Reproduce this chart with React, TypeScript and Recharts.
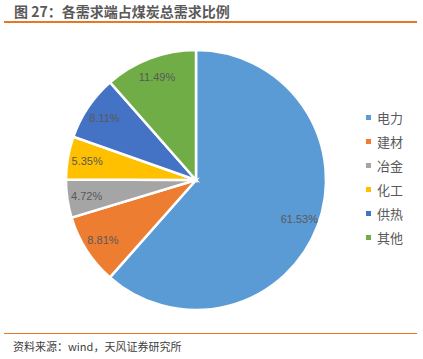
import React from "react";
import { PieChart, Pie, Cell, Legend } from "recharts";

const categories = ["电力", "建材", "冶金", "化工", "供热", "其他"];
const shares = [61.53, 8.81, 4.72, 5.35, 8.11, 11.49];
const colors = ["#5B9BD5", "#ED7D31", "#A5A5A5", "#FFC000", "#4472C4", "#70AD47"];

const data = categories.map((name, i) => ({ name, value: shares[i] }));

const RAD = Math.PI / 180;

const renderLabel = (props: any) => {
  const { cx, cy, midAngle, outerRadius, value } = props;
  const r = outerRadius * 0.85;
  const x = cx + r * Math.cos(-midAngle * RAD);
  const y = cy + r * Math.sin(-midAngle * RAD);
  return (
    <text
      x={x}
      y={y}
      fill="#595959"
      fontSize={11}
      fontFamily="Liberation Sans, Arial, sans-serif"
      textAnchor="middle"
      dominantBaseline="central"
    >
      {value.toFixed(2) + "%"}
    </text>
  );
};

const renderLegend = () => (
  <div style={{ fontFamily: "'Noto Sans CJK SC', sans-serif", fontSize: 13, color: "#595959" }}>
    {data.map((d, i) => (
      <div key={d.name} style={{ display: "flex", alignItems: "center", height: 24 }}>
        <span
          style={{ display: "inline-block", width: 5, height: 5, background: colors[i], marginRight: 6 }}
        />
        <span>{d.name}</span>
      </div>
    ))}
  </div>
);

export default function App() {
  return (
    <div
      style={{
        position: "absolute",
        left: 0,
        top: 0,
        width: 423,
        height: 359,
        background: "#fff",
        overflow: "hidden",
      }}
    >
      <div
        style={{
          position: "absolute",
          left: 14,
          top: 2,
          fontFamily: "'Noto Sans CJK SC', sans-serif",
          fontWeight: "bold",
          fontSize: 14,
          color: "#595959",
          lineHeight: "18px",
        }}
      >
        图 27：各需求端占煤炭总需求比例
      </div>
      <div style={{ position: "absolute", left: 4, top: 21, width: 413, height: 2, background: "#E87722" }} />
      <PieChart width={423} height={359} margin={{ top: 0, right: 0, bottom: 0, left: 0 }}>
        <Pie
          data={data}
          dataKey="value"
          nameKey="name"
          cx={196}
          cy={180}
          outerRadius={130}
          startAngle={90}
          endAngle={-270}
          stroke="#fff"
          strokeWidth={2.5}
          label={renderLabel}
          labelLine={false}
          isAnimationActive={false}
        >
          {data.map((d, i) => (
            <Cell key={d.name} fill={colors[i]} />
          ))}
        </Pie>
        <Legend
          content={renderLegend}
          wrapperStyle={{ position: "absolute", left: 366, top: 105, width: 60 }}
        />
      </PieChart>
      <div style={{ position: "absolute", left: 4, top: 333, width: 413, height: 1, background: "#E87722" }} />
      <div
        style={{
          position: "absolute",
          left: 13,
          top: 338,
          fontFamily: "'Noto Sans CJK SC', sans-serif",
          fontSize: 11,
          color: "#404040",
          lineHeight: "16px",
        }}
      >
        资料来源：wind，天风证券研究所
      </div>
    </div>
  );
}
